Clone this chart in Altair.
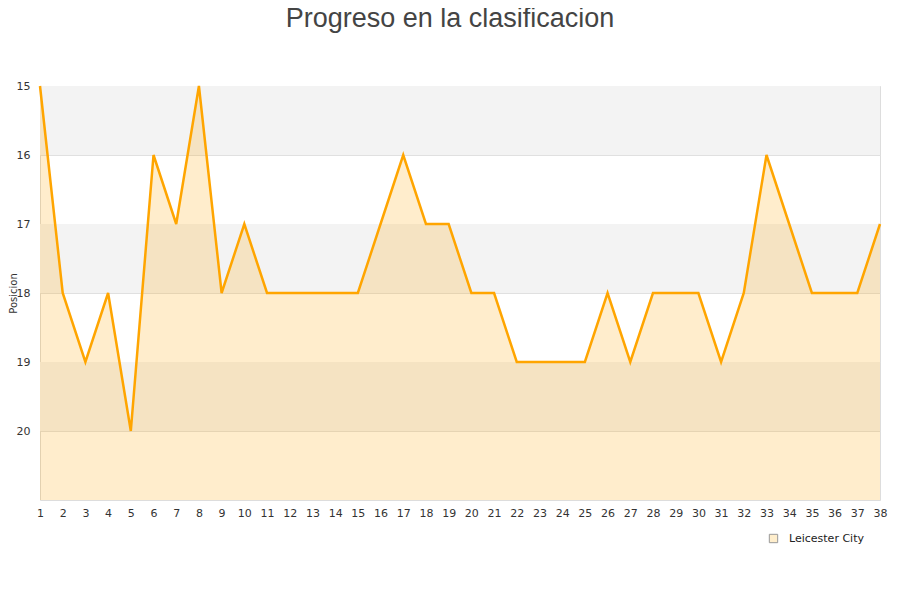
import altair as alt
import pandas as pd

jornadas = list(range(1, 39))
posiciones = [15, 18, 19, 18, 20, 16, 17, 15, 18, 17, 18, 18, 18, 18, 18, 17, 16, 17, 17,
              18, 18, 19, 19, 19, 19, 18, 19, 18, 18, 18, 19, 18, 16, 17, 18, 18, 18, 17]
equipo = "Leicester City"
y_ticks = [15, 16, 17, 18, 19, 20]
band_start = [15, 17, 19]
band_end = [16, 18, 20]
y_min, y_max = 15, 21

df = pd.DataFrame({"Jornada": jornadas, "Posicion": posiciones, "Equipo": equipo, "base": y_max})
bands = pd.DataFrame({"y": band_start, "y2": band_end})

xscale = alt.Scale(domain=[1, 38], nice=False, zero=False)
yscale = alt.Scale(domain=[y_min, y_max], reverse=True, nice=False, zero=False)

xaxis = alt.Axis(values=jornadas, grid=False, ticks=False, domain=False, labelPadding=7,
                 title=None, labelFlush=False, labelOverlap=False, labelColor="#333",
                 labelFontSize=11, labelFont="DejaVu Sans")
yaxis = alt.Axis(values=y_ticks, grid=True, gridColor="#e0e0e0", ticks=False, domain=False,
                 title="Posicion", titleFontSize=10, titleFontWeight="normal", titleColor="#333",
                 titleFont="DejaVu Sans", titleX=-27, titleY=207, titleAlign="center",
                 titleBaseline="middle", titleAngle=270,
                 labelColor="#333", labelFontSize=11,
                 labelFont="DejaVu Sans", labelPadding=10)

band_layer = alt.Chart(bands).mark_rect(color="#f3f3f3").encode(
    x=alt.X("x:Q", scale=xscale, axis=xaxis),
    x2="x2:Q",
    y=alt.Y("y:Q", scale=yscale, axis=yaxis),
    y2="y2:Q",
).transform_calculate(x="1", x2="38")

area = alt.Chart(df).mark_area(opacity=0.2, interpolate="linear", color="#ffa500").encode(
    x=alt.X("Jornada:Q", scale=xscale, axis=xaxis),
    y=alt.Y("Posicion:Q", scale=yscale, axis=yaxis),
    y2="base:Q",
)

legend_layer = alt.Chart(df).mark_square(opacity=0, size=1).encode(
    x=alt.X("Jornada:Q", scale=xscale, axis=xaxis),
    y=alt.Y("Posicion:Q", scale=yscale, axis=yaxis),
    fill=alt.Fill("Equipo:N", scale=alt.Scale(domain=[equipo], range=["#ffeecc"]),
                  legend=alt.Legend(orient="none", legendX=728, legendY=447, title=None,
                                    symbolType="square", symbolSize=70, symbolOpacity=1,
                                    symbolStrokeColor="#999", symbolStrokeWidth=1,
                                    labelOffset=10, labelFontSize=11, labelColor="#222",
                                    labelFont="DejaVu Sans")),
)

line = alt.Chart(df).mark_line(color="#ffa500", strokeWidth=2.5).encode(
    x=alt.X("Jornada:Q", scale=xscale, axis=xaxis),
    y=alt.Y("Posicion:Q", scale=yscale, axis=yaxis),
)

chart = alt.layer(band_layer, area, line, legend_layer).properties(
    width=840,
    height=414,
    autosize=alt.AutoSizeParams(type="none"),
    padding={"left": 32, "top": 78, "right": 12, "bottom": 90},
    title=alt.TitleParams("Progreso en la clasificacion", fontSize=27, font="Liberation Sans",
                          fontWeight="normal", color="#444", anchor="middle", offset=47, dx=-10),
).configure_view(stroke="#ddd", strokeWidth=1).configure_axisX(labelOverlap=False)

chart.save("out.html", embed_options={"renderer": "svg", "actions": False})
